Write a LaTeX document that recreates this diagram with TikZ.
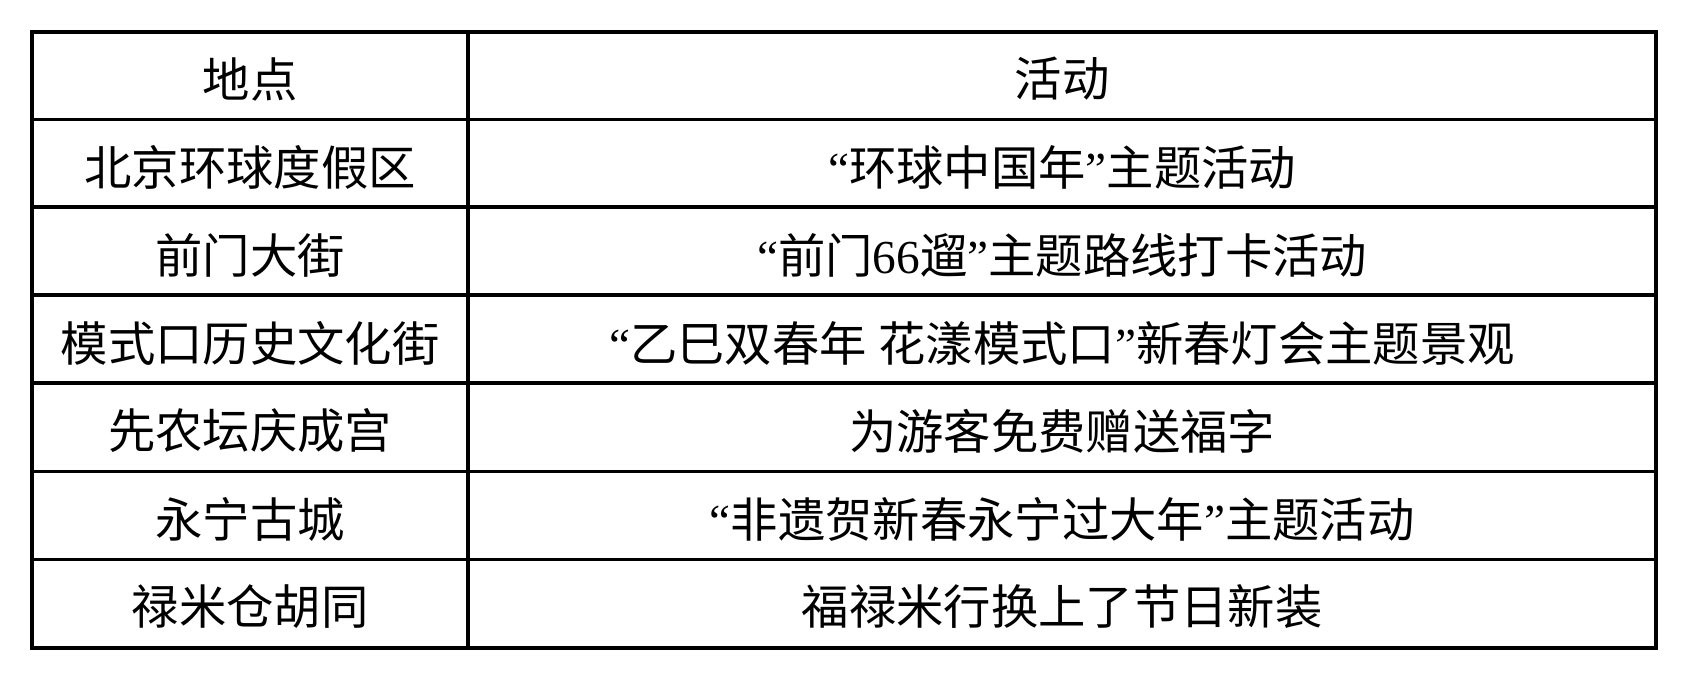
\documentclass[tikz,border=0pt]{standalone}
\usepackage{fontspec}
\setmainfont{Liberation Serif}
\newfontfamily\cjk{Noto Sans CJK SC}
\newcommand\myoq{{\rmfamily “}}
\newcommand\mycq{{\rmfamily ”}}
\newcommand\mylat[1]{{\rmfamily #1}}
\begin{document}
\begin{tikzpicture}[x=0.75pt,y=-0.75pt,
  grid/.style={line width=2.5pt,line cap=rect},
  cell/.style={inner sep=0pt,font=\cjk\fontsize{35.5}{40}\selectfont,anchor=center}]
\useasboundingbox[fill=white] (0,0) rectangle (1688,680);
% grid
\draw[grid] (32,32) rectangle (1656,648);
\draw[grid] (468,32) -- (468,648);
\foreach \y in {119.5,207,295,383,471.5,559.5}
  \draw[grid] (32,\y) -- (1656,\y);
% header
\node[cell] (h1) at (250,79) {地点};
\node[cell] (h2) at (1062,79) {活动};
% rows
\node[cell] (a1) at (250,167) {北京环球度假区};
\node[cell] (b1) at (1062,167) {\myoq 环球中国年\mycq 主题活动};
\node[cell] (a2) at (250,255) {前门大街};
\node[cell] (b2) at (1062,255) {\myoq 前门\mylat{66}遛\mycq 主题路线打卡活动};
\node[cell] (a3) at (250,343) {模式口历史文化街};
\node[cell] (b3) at (1062,343) {\myoq 乙巳双春年\mylat{ }花漾模式口\mycq 新春灯会主题景观};
\node[cell] (a4) at (250,431) {先农坛庆成宫};
\node[cell] (b4) at (1062,431) {为游客免费赠送福字};
\node[cell] (a5) at (250,519) {永宁古城};
\node[cell] (b5) at (1062,519) {\myoq 非遗贺新春永宁过大年\mycq 主题活动};
\node[cell] (a6) at (250,607) {禄米仓胡同};
\node[cell] (b6) at (1062,607) {福禄米行换上了节日新装};
\end{tikzpicture}
\end{document}
